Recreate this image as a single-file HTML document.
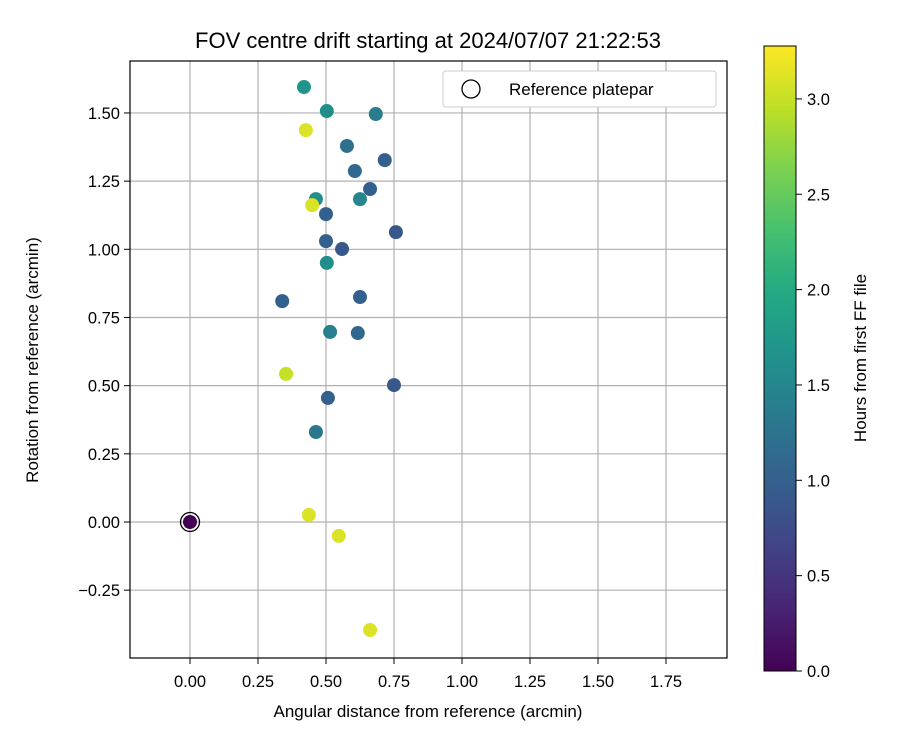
<!DOCTYPE html>
<html><head><meta charset="utf-8"><style>
body{margin:0;background:#fff;}
svg{display:block;font-family:"Liberation Sans","DejaVu Sans",sans-serif;}
</style></head><body>
<svg id="chart" width="900" height="750" viewBox="0 0 900 750">
<defs>
<linearGradient id="vir" x1="0" y1="1" x2="0" y2="0">
<stop offset="0" stop-color="#440154"/><stop offset="0.1" stop-color="#482475"/><stop offset="0.2" stop-color="#414487"/><stop offset="0.3" stop-color="#355f8d"/><stop offset="0.4" stop-color="#2a788e"/><stop offset="0.5" stop-color="#21918c"/><stop offset="0.6" stop-color="#22a884"/><stop offset="0.7" stop-color="#44bf70"/><stop offset="0.8" stop-color="#7ad151"/><stop offset="0.9" stop-color="#bddf26"/><stop offset="1" stop-color="#fde725"/>
</linearGradient>
</defs>
<text x="428" y="48" font-size="22" text-anchor="middle">FOV centre drift starting at 2024/07/07 21:22:53</text>
<g id="grid"></g>
<g id="pts"></g>
<rect x="130" y="61" width="597" height="597" fill="none" stroke="#000" stroke-width="1.2"/>
<g id="axes" font-size="16.5"></g>
<text x="428" y="717" font-size="17" text-anchor="middle">Angular distance from reference (arcmin)</text>
<text transform="translate(38,360) rotate(-90)" font-size="17" text-anchor="middle">Rotation from reference (arcmin)</text>
<g>
<rect x="443" y="71" width="273" height="36" rx="3" fill="#fff" stroke="#ccc"/>
<circle cx="471" cy="89" r="9" fill="none" stroke="#000" stroke-width="1.3"/>
<text x="509" y="95" font-size="17">Reference platepar</text>
</g>
<rect x="764" y="46" width="32" height="625" fill="url(#vir)" stroke="#000" stroke-width="1"/>
<g id="cbar" font-size="16.5"></g>
<text transform="translate(866,358) rotate(-90)" font-size="17" text-anchor="middle">Hours from first FF file</text>
</svg>
<script>
const xs=[0.419,0.503,0.683,0.426,0.577,0.716,0.606,0.662,0.463,0.625,0.449,0.5,0.757,0.5,0.559,0.503,0.339,0.625,0.515,0.617,0.353,0.75,0.507,0.463,0,0.437,0.547,0.662];
const ys=[1.595,1.507,1.496,1.437,1.379,1.327,1.287,1.221,1.184,1.184,1.162,1.129,1.063,1.030,1.001,0.950,0.810,0.825,0.697,0.693,0.543,0.502,0.455,0.330,0,0.026,-0.051,-0.396];
const hrs=[1.7,1.6,1.35,3.1,1.2,1.0,1.1,1.0,1.6,1.5,3.1,1.0,0.9,1.0,0.9,1.6,1.0,1.0,1.4,1.1,3.0,0.9,1.0,1.3,0,3.1,3.1,3.1];
const xTicks=[0,0.25,0.5,0.75,1.0,1.25,1.5,1.75];
const yTicks=[-0.25,0,0.25,0.5,0.75,1.0,1.25,1.5];
const cTicks=[0,0.5,1.0,1.5,2.0,2.5,3.0];
const X=v=>190+v*272, Y=v=>522-v*272.7, C=v=>671-v*190.7;
const vir=["#440154","#482475","#414487","#355f8d","#2a788e","#21918c","#22a884","#44bf70","#7ad151","#bddf26","#fde725"];
function col(h){let t=Math.max(0,Math.min(1,h/3.278))*10;let i=Math.min(9,Math.floor(t)),f=t-i;
const a=vir[i],b=vir[i+1];const p=(s,k)=>parseInt(s.substr(1+2*k,2),16);
return "rgb("+[0,1,2].map(k=>Math.round(p(a,k)*(1-f)+p(b,k)*f)).join(",")+")";}
const NS="http://www.w3.org/2000/svg";
function mk(par,tag,at){const e=document.createElementNS(NS,tag);for(const k in at)e.setAttribute(k,at[k]);document.getElementById(par).appendChild(e);return e;}
xTicks.forEach(t=>{
const l=mk("grid","line",{x1:X(t),x2:X(t),y1:61,y2:658,stroke:"#b0b0b0","stroke-width":1.2});


mk("axes","line",{x1:X(t),x2:X(t),y1:658,y2:664,stroke:"#000"});
const tx=mk("axes","text",{x:X(t),y:687,"text-anchor":"middle"});tx.textContent=t.toFixed(2);


});
yTicks.forEach(t=>{
const l=mk("grid","line",{x1:130,x2:727,y1:Y(t),y2:Y(t),stroke:"#b0b0b0","stroke-width":1.2});


mk("axes","line",{x1:124,x2:130,y1:Y(t),y2:Y(t),stroke:"#000"});
const tx=mk("axes","text",{x:120,y:Y(t)+6,"text-anchor":"end"});tx.textContent=(t<0?"\u2212":"")+Math.abs(t).toFixed(2);


});
cTicks.forEach(t=>{
mk("cbar","line",{x1:796,x2:802,y1:C(t),y2:C(t),stroke:"#000"});
const tx=mk("cbar","text",{x:807,y:C(t)+6});tx.textContent=t.toFixed(1);


});
xs.forEach((v,i)=>{
const c=mk("pts","circle",{cx:X(v),cy:Y(ys[i]),r:7,fill:col(hrs[i])});


});
const r=mk("pts","circle",{cx:X(0),cy:Y(0),r:9.5,fill:"none",stroke:"#000","stroke-width":1.3});


</script>
</body></html>
